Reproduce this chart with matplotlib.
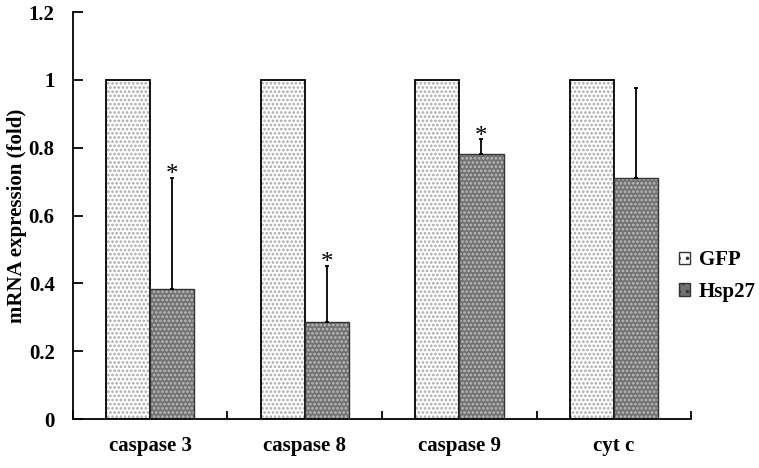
import numpy as np
import matplotlib as mpl
mpl.use('Agg')
import matplotlib.pyplot as plt
from matplotlib.patches import Patch

plt.rcParams['font.family'] = ['Liberation Serif', 'DejaVu Serif']
plt.rcParams['font.weight'] = 'bold'
plt.rcParams['hatch.linewidth'] = 1.3

# data
categories = ['caspase 3', 'caspase 8', 'caspase 9', 'cyt c']
gfp = [1.0, 1.0, 1.0, 1.0]
hsp27 = [0.383, 0.287, 0.783, 0.71]
hsp27_err = [0.328, 0.164, 0.042, 0.266]
significant = [True, True, True, False]

x = np.arange(len(categories))
w = 0.285

fig = plt.figure(figsize=(7.59, 4.68), dpi=100)
ax = fig.add_axes([0.0958, 0.1047, 0.911 - 0.0958, 0.974 - 0.1047])

# GFP: white bars with grey dots
ax.bar(x - w / 2, gfp, w, color='white', edgecolor='none', zorder=2)
ax.bar(x - w / 2, gfp, w, color='none', edgecolor='#a8a8a8', hatch='....',
       linewidth=0, zorder=3)
ax.bar(x - w / 2, gfp, w, color='none', edgecolor='black', linewidth=1.3, zorder=4)

# Hsp27: grey bars with light dots
ax.bar(x + w / 2, hsp27, w, color='#727272', edgecolor='none', zorder=2)
ax.bar(x + w / 2, hsp27, w, color='none', edgecolor='#bdbdbd', hatch='....',
       linewidth=0, zorder=3)
ax.bar(x + w / 2, hsp27, w, color='none', edgecolor='#333333', linewidth=1.0, zorder=4)

ax.errorbar(x + w / 2, hsp27, yerr=[np.zeros(len(x)), hsp27_err], fmt='none',
            ecolor='black', elinewidth=1.3, capsize=1.5, capthick=1.3, zorder=5)

for xi, v, e, s in zip(x, hsp27, hsp27_err, significant):
    if s:
        ax.annotate('*', (xi + w / 2, v + e), xytext=(0, -6), textcoords='offset points',
                    ha='center', va='bottom', fontsize=18, fontweight='normal')

ax.set_xlim(-0.5, 3.5)
ax.set_ylim(0, 1.2)
ax.set_yticks(np.arange(0, 1.21, 0.2))
ax.set_yticklabels(['0', '0.2', '0.4', '0.6', '0.8', '1', '1.2'])
ax.set_xticks(np.arange(-0.5, 3.6, 1.0))
ax.set_xticklabels([])
ax.set_xticks(x, minor=True)
ax.set_xticklabels(categories, minor=True)

ax.tick_params(axis='y', direction='in', length=7, width=1.3, labelsize=15, pad=13)
ax.tick_params(axis='x', which='major', direction='in', length=6, width=1.3)
ax.tick_params(axis='x', which='minor', length=0, labelsize=15, pad=12)

ax.spines['top'].set_visible(False)
ax.spines['right'].set_visible(False)
ax.spines['left'].set_linewidth(1.3)
ax.spines['bottom'].set_linewidth(1.3)

ax.set_ylabel('mRNA expression (fold)', fontsize=15, fontweight='bold', labelpad=1)

handles = [Patch(facecolor='white', edgecolor='#333333', hatch='..', label='GFP'),
           Patch(facecolor='#727272', edgecolor='#333333', hatch='..', label='Hsp27')]
fig.legend(handles=handles, loc='center left', bbox_to_anchor=(0.894, 0.41),
           frameon=False, fontsize=15, handlelength=0.55, handleheight=0.55,
           handletextpad=0.42, labelspacing=0.55, borderpad=0, borderaxespad=0)

fig.savefig('out.png', dpi=100)
